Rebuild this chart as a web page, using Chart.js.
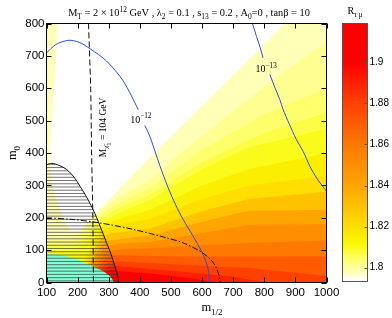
<!DOCTYPE html>
<html>
<head>
<meta charset="utf-8">
<script src="https://cdn.jsdelivr.net/npm/chart.js@4.4.1/dist/chart.umd.min.js"></script>
<style>
  html, body { margin: 0; padding: 0; background: #fff; }
  #wrap { position: relative; width: 392px; height: 318px; }
  canvas { position: absolute; left: 0; top: 0; }
</style>
</head>
<body>
<div id="wrap">
  <canvas id="plot" width="392" height="318"></canvas>
  <canvas id="bar" width="392" height="318"></canvas>
</div>
<script>
// ticks
const xTicks = [100, 200, 300, 400, 500, 600, 700, 800, 900, 1000];
const yTicks = [0, 100, 200, 300, 400, 500, 600, 700, 800];
const barTicks = [1.8, 1.82, 1.84, 1.86, 1.88, 1.9];
const barMin = 1.7933, barMax = 1.9189;

// colour scale of R (value -> rgb)
const cmapStops = [
  [1.7935, [255, 255, 255]],
  [1.7985, [255, 255, 176]],
  [1.805, [255, 255, 96]],
  [1.812, [248, 248, 0]],
  [1.82, [255, 222, 0]],
  [1.84, [255, 165, 0]],
  [1.86, [255, 120, 0]],
  [1.88, [255, 65, 0]],
  [1.90, [255, 0, 0]]
];

// region where R < 1.798 (white)
const paleLevel = 1.798;
const whiteRegion = [[135, 800], [127, 650], [118, 500], [112, 420], [112, 360], [117, 310], [127, 270],
  [140, 235], [152, 205], [163, 180], [175, 163], [190, 158], [205, 162], [217, 172], [250, 205],
  [300, 255], [400, 355], [500, 450], [600, 545], [700, 640], [800, 735], [865, 800]];

// contour lines of R, region below/right of each has R >= level
const levels = [1.801, 1.804, 1.807, 1.810, 1.815, 1.820, 1.830, 1.840, 1.850, 1.860, 1.870, 1.880, 1.890, 1.900];
const c1801 = [[100, 142], [150, 140], [185, 143], [215, 158], [240, 185], [270, 222], [330, 262], [433, 318], [530, 400], [700, 530], [850, 640], [1000, 744]];
const c1804 = [[100, 128], [150, 126], [185, 129], [215, 142], [240, 168], [268, 205], [330, 245], [433, 292], [600, 410], [800, 520], [1000, 600]];
const c1807 = [[100, 116], [150, 113], [185, 116], [218, 128], [243, 155], [266, 190], [330, 230], [433, 272], [600, 372], [800, 462], [1000, 525]];
const c1810 = [[100, 104], [150, 100], [185, 102], [220, 114], [245, 142], [264, 178], [330, 215], [433, 255], [600, 350], [750, 418], [1000, 475]];
const c1815 = [[215, 60], [235, 95], [252, 130], [268, 165], [300, 185], [360, 205], [433, 225], [600, 300], [750, 350], [1000, 400]];
const c1820 = [[222, 57], [242, 92], [258, 125], [272, 155], [300, 170], [360, 185], [433, 197], [600, 258], [750, 300], [1000, 330]];
const c1830 = [[230, 53], [250, 88], [265, 118], [280, 143], [310, 152], [433, 167], [600, 220], [750, 258], [1000, 280]];
const c1840 = [[238, 50], [258, 84], [273, 110], [290, 128], [320, 132], [433, 145], [600, 188], [750, 222], [1000, 225]];
const c1850 = [[246, 46], [265, 78], [282, 102], [300, 112], [330, 120], [433, 125], [600, 152], [750, 178], [1000, 180]];
const c1860 = [[254, 43], [273, 72], [290, 92], [310, 98], [340, 103], [433, 105], [600, 115], [750, 122], [1000, 130]];
const c1870 = [[262, 40], [281, 65], [298, 80], [318, 84], [350, 84], [433, 82], [600, 80], [750, 80], [1000, 80]];
const c1880 = [[270, 36], [289, 58], [306, 66], [326, 66], [360, 63], [433, 60], [600, 52], [750, 45], [900, 30], [1000, 20]];
const c1890 = [[278, 32], [297, 50], [314, 52], [334, 50], [370, 47], [433, 42], [600, 28], [700, 18], [800, 0]];
const c1900 = [[286, 27], [305, 40], [322, 38], [342, 35], [380, 32], [450, 26], [550, 15], [620, 5], [660, 0]];
const contours = [c1801, c1804, c1807, c1810, c1815, c1820, c1830, c1840, c1850, c1860, c1870, c1880, c1890, c1900];

// excluded regions
const cyanEdge = [[100, 88], [140, 86], [165, 81], [186, 76], [215, 65], [240, 54], [262, 44], [282, 35], [298, 25], [309, 15], [314, 5], [316, 0]];
const hatchEdge = [[100, 364], [117, 368], [140, 362], [165, 349], [188, 326], [208, 297], [230, 262], [250, 225], [272, 175], [293, 123], [308, 86], [320, 50], [328, 22], [333, 0]];

// other curves
const br12a = [[100, 709], [130, 735], [170, 748], [205, 742], [240, 722], [293, 684], [347, 622], [395, 534]];
const br12b = [[416, 485], [432, 452], [464, 362], [490, 295], [515, 240], [539, 195], [570, 145], [598, 97], [612, 65], [620, 40], [624, 0]];
const br13a = [[762, 800], [775, 760], [787, 725], [796, 694]];
const br13b = [[818, 642], [835, 600], [850, 565], [860, 536], [880, 490], [903, 442], [925, 405], [946, 360], [970, 320], [1000, 282]];
const neutralino = [[235, 800], [242, 600], [245, 400], [249, 200], [251, 0]];
const dashDot = [[100, 200], [180, 195], [272, 184], [379, 164], [486, 138], [540, 122], [593, 97], [620, 78], [636, 61], [646, 45], [652, 30], [657, 12], [659, 0]];

function cmap(v) {
  if (v <= cmapStops[0][0]) return 'rgb(255,255,255)';
  for (let i = 1; i < cmapStops.length; i++) {
    if (v <= cmapStops[i][0]) {
      const [v0, c0] = cmapStops[i - 1], [v1, c1] = cmapStops[i];
      const t = (v - v0) / (v1 - v0);
      const c = c0.map((k, j) => Math.round(k + (c1[j] - k) * t));
      return 'rgb(' + c.join(',') + ')';
    }
  }
  const c = cmapStops[cmapStops.length - 1][1];
  return 'rgb(' + c.join(',') + ')';
}

const serif = '"Liberation Serif"';
function richWidth(ctx, parts, size) {
  let w = 0;
  parts.forEach(([t, s]) => {
    ctx.font = (s === 0 ? size : size * 0.72) + 'px ' + serif;
    w += ctx.measureText(t).width;
  });
  return w;
}
function richText(ctx, parts, x, y, size) {
  const w = richWidth(ctx, parts, size);
  let cx = x - w / 2;
  ctx.textAlign = 'left';
  ctx.textBaseline = 'alphabetic';
  parts.forEach(([t, s]) => {
    ctx.font = (s === 0 ? size : size * 0.72) + 'px ' + serif;
    const dy = s < 0 ? size * 0.28 * -s : (s > 0 ? -size * 0.42 : 0);
    ctx.fillText(t, cx, y + dy);
    cx += ctx.measureText(t).width;
  });
}

const fieldPlugin = {
  id: 'field',
  beforeDatasetsDraw(chart) {
    const { ctx, chartArea: a, scales: { x, y } } = chart;
    const path = pts => {
      ctx.beginPath();
      pts.forEach(([u, v], i) => {
        const px = x.getPixelForValue(u), py = y.getPixelForValue(v);
        if (i) ctx.lineTo(px, py); else ctx.moveTo(px, py);
      });
      ctx.closePath();
    };
    ctx.save();
    ctx.beginPath();
    ctx.rect(a.left, a.top, a.width, a.height);
    ctx.clip();
    ctx.fillStyle = cmap(paleLevel);
    ctx.fillRect(a.left, a.top, a.width, a.height);
    path(whiteRegion);
    ctx.fillStyle = '#fff';
    ctx.fill();
    contours.forEach((c, i) => {
      path(c.concat([[1000, 0], [c[0][0], 0]]));
      ctx.fillStyle = cmap(levels[i]);
      ctx.fill();
    });
    path(cyanEdge.concat([[100, 0]]));
    ctx.fillStyle = '#80ffd6';
    ctx.fill();
    // hatching
    path(hatchEdge.concat([[100, 0]]));
    ctx.clip();
    ctx.strokeStyle = 'rgba(50,50,50,0.85)';
    ctx.lineWidth = 0.8;
    for (let v = 5; v < 370; v += 10) {
      const py = y.getPixelForValue(v);
      ctx.beginPath();
      ctx.moveTo(a.left, py);
      ctx.lineTo(x.getPixelForValue(340), py);
      ctx.stroke();
    }
    ctx.restore();
  },
  afterDatasetsDraw(chart) {
    const { ctx, chartArea: a, scales: { x, y } } = chart;
    ctx.save();
    ctx.strokeStyle = '#000';
    ctx.lineWidth = 1;
    ctx.strokeRect(a.left, a.top, a.width, a.height);
    ctx.beginPath();
    xTicks.forEach(v => {
      const px = Math.round(x.getPixelForValue(v)) + 0.5;
      ctx.moveTo(px, a.bottom); ctx.lineTo(px, a.bottom - 5);
      ctx.moveTo(px, a.top); ctx.lineTo(px, a.top + 5);
    });
    yTicks.forEach(v => {
      const py = Math.round(y.getPixelForValue(v)) + 0.5;
      ctx.moveTo(a.left, py); ctx.lineTo(a.left + 5, py);
      ctx.moveTo(a.right, py); ctx.lineTo(a.right - 5, py);
    });
    ctx.stroke();

    ctx.fillStyle = '#000';
    // title
    const title = [['M', 0], ['T', -1], [' = 2 × 10', 0], ['12', 1], [' GeV , λ', 0], ['2', -1],
      [' = 0.1 , s', 0], ['13', -1], [' = 0.2 , A', 0], ['0', -1], ['=0 , tanβ = 10', 0]];
    const ts = 10 * 242 / richWidth(ctx, title, 10);
    richText(ctx, title, 189, 16, ts);
    // axis titles
    richText(ctx, [['m', 0], ['1/2', -1]], 212, 311, 12.5);
    ctx.save();
    ctx.translate(16, 153);
    ctx.rotate(-Math.PI / 2);
    richText(ctx, [['m', 0], ['0', -1]], 0, 0, 12.5);
    ctx.restore();
    // contour labels
    richText(ctx, [['10', 0], ['−12', 1]], x.getPixelForValue(403), y.getPixelForValue(494), 10);
    richText(ctx, [['10', 0], ['−13', 1]], x.getPixelForValue(806), y.getPixelForValue(649), 10);
    ctx.save();
    ctx.translate(x.getPixelForValue(290), y.getPixelForValue(479));
    ctx.rotate(-Math.PI / 2);
    richText(ctx, [['M', 0], ['χ̃', -1], ['1', -2], [' = 104 GeV', 0]], 0, 0, 9.5);
    ctx.restore();
    ctx.restore();
  }
};

const line = (pts, color, dash) => ({
  data: pts.map(([x, y]) => ({ x, y })),
  showLine: true,
  pointRadius: 0,
  borderColor: color,
  borderWidth: 1,
  borderDash: dash || [],
  tension: 0.3,
  fill: false
});

Chart.defaults.font.family = '"Liberation Sans"';
Chart.defaults.color = '#000';

new Chart(document.getElementById('plot'), {
  type: 'scatter',
  data: {
    datasets: [
      line(hatchEdge, '#111'),
      line(dashDot, '#111', [6, 2, 1.5, 2]),
      line(neutralino, '#111', [6, 3]),
      line(br12a, 'rgb(45,75,235)'),
      line(br12b, 'rgb(45,75,235)'),
      line(br13a, 'rgb(45,75,235)'),
      line(br13b, 'rgb(45,75,235)')
    ]
  },
  options: {
    responsive: false,
    animation: false,
    layout: { padding: { top: 23.5, right: 65.5, left: 0, bottom: 0 } },
    plugins: { legend: { display: false }, tooltip: { enabled: false } },
    scales: {
      x: {
        type: 'linear', min: 100, max: 1000,
        afterBuildTicks: s => { s.ticks = xTicks.map(v => ({ value: v })); },
        afterFit: s => { s.height = 35.5; },
        ticks: { font: { size: 11.5 }, padding: 3, maxRotation: 0, autoSkip: false, callback: v => String(v) },
        grid: { display: false, drawTicks: false },
        border: { display: false }
      },
      y: {
        type: 'linear', min: 0, max: 800,
        afterBuildTicks: s => { s.ticks = yTicks.map(v => ({ value: v })); },
        afterFit: s => { s.width = 46.5; },
        ticks: { font: { size: 11.5 }, padding: 2, autoSkip: false, callback: v => String(v) },
        grid: { display: false, drawTicks: false },
        border: { display: false }
      }
    }
  },
  plugins: [fieldPlugin]
});

const barPlugin = {
  id: 'cbar',
  beforeDatasetsDraw(chart) {
    const { ctx, chartArea: a, scales: { y } } = chart;
    ctx.save();
    for (let py = Math.floor(a.top); py < a.bottom; py++) {
      ctx.fillStyle = cmap(y.getValueForPixel(py + 0.5));
      ctx.fillRect(a.left, py, a.width, 1);
    }
    ctx.strokeStyle = '#555';
    ctx.lineWidth = 1;
    ctx.strokeRect(a.left, a.top, a.width, a.height);
    ctx.beginPath();
    barTicks.forEach(v => {
      const py = Math.round(y.getPixelForValue(v)) + 0.5;
      ctx.moveTo(a.right, py); ctx.lineTo(a.right - 3, py);
    });
    ctx.stroke();
    ctx.fillStyle = '#000';
    richText(ctx, [['R', 0], ['τ μ', -1]], 355, 14, 10);
    ctx.restore();
  }
};

new Chart(document.getElementById('bar'), {
  type: 'scatter',
  data: { datasets: [] },
  options: {
    responsive: false,
    animation: false,
    layout: { padding: { top: 23.5, left: 342.5, bottom: 36.5, right: 0 } },
    plugins: { legend: { display: false }, tooltip: { enabled: false } },
    scales: {
      x: { display: false },
      y: {
        position: 'right', min: barMin, max: barMax,
        afterBuildTicks: s => { s.ticks = barTicks.map(v => ({ value: v })); },
        afterFit: s => { s.width = 24.5; },
        ticks: { font: { size: 10 }, padding: 2, callback: v => String(Math.round(v * 100) / 100) },
        grid: { display: false, drawTicks: false },
        border: { display: false }
      }
    }
  },
  plugins: [barPlugin]
});
</script>
</body>
</html>
